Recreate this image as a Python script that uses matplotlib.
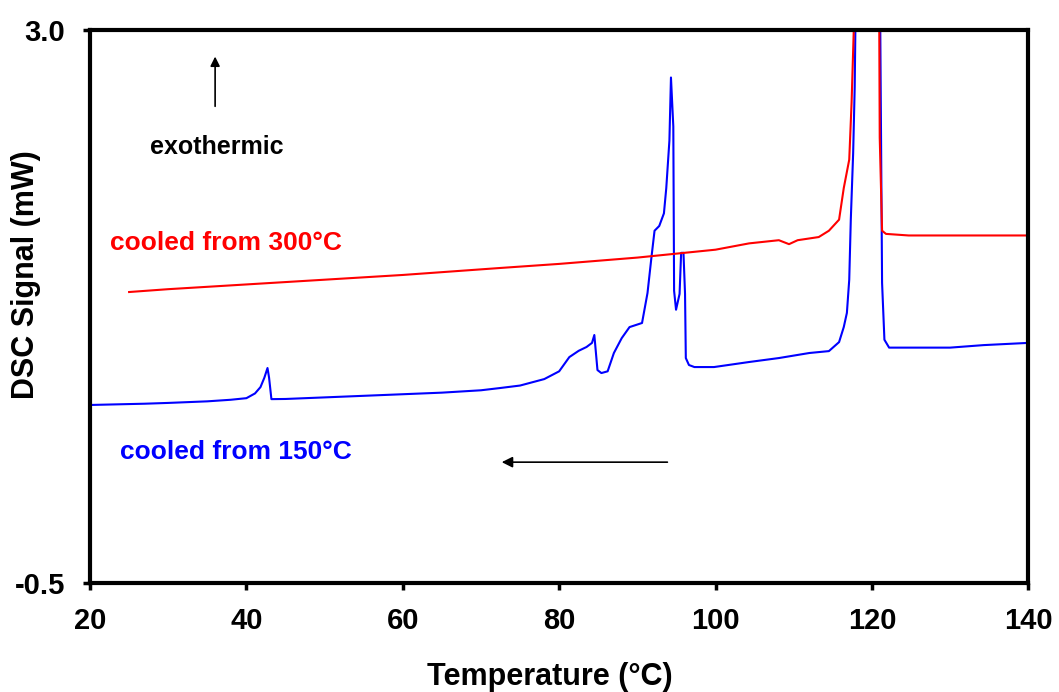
import matplotlib.pyplot as plt

plt.rcParams['font.family'] = ['Liberation Sans', 'DejaVu Sans']
plt.rcParams['font.weight'] = 'bold'

# cooled from 150 C (blue)
t150 = [20, 27, 30, 35, 38, 40, 41.1, 41.8, 42.3, 42.7, 42.9, 43.2, 45, 50, 55, 60,
        65, 70, 72.4, 75, 78.1, 80, 81.3, 82.5, 83.5, 84.2, 84.5, 84.9, 85.4, 86.2,
        87, 88, 89, 90.6, 91.3, 91.8, 92.2, 92.8, 93.4, 93.7, 94.1, 94.3, 94.6, 94.7,
        94.95, 95.4, 95.6, 95.9, 96.1, 96.2, 96.6, 97.3, 99.8, 104.3, 108.1, 112,
        114.5, 115.8, 116.4, 116.8, 117.1, 117.3, 117.6, 117.8, 118.0, 121.0, 121.3,
        121.6, 122.2, 125, 130, 134.3, 140]
dsc150 = [0.627, 0.635, 0.64, 0.65, 0.66, 0.67, 0.70, 0.74, 0.80, 0.861, 0.80, 0.664,
          0.665, 0.675, 0.685, 0.695, 0.705, 0.72, 0.734, 0.75, 0.791, 0.84, 0.93,
          0.97, 0.994, 1.02, 1.07, 0.848, 0.829, 0.84, 0.956, 1.05, 1.12, 1.146, 1.336,
          1.56, 1.73, 1.76, 1.84, 2.0, 2.30, 2.70, 2.39, 1.35, 1.23, 1.33, 1.59, 1.59,
          1.33, 0.924, 0.88, 0.867, 0.867, 0.899, 0.924, 0.956, 0.968, 1.025, 1.12,
          1.21, 1.42, 1.80, 2.22, 2.64, 3.5, 3.5, 1.40, 1.04, 0.99, 0.99, 0.99, 1.006,
          1.02]

# cooled from 300 C (red)
t300 = [25, 30, 40, 50, 60, 72.4, 80, 90, 100, 104.3, 108.1, 109.4, 110.5, 113.2,
        114.5, 115.8, 116.4, 117.1, 117.4, 117.8, 118.1, 120.9, 121.0, 121.3, 121.8,
        124.7, 130, 140]
dsc300 = [1.342, 1.36, 1.39, 1.42, 1.45, 1.494, 1.52, 1.56, 1.61, 1.65, 1.67, 1.645,
          1.67, 1.69, 1.73, 1.80, 2.0, 2.18, 2.54, 3.2, 3.5, 3.5, 2.32, 1.73, 1.71,
          1.70, 1.70, 1.70]

fig = plt.figure(figsize=(10.59, 6.92), dpi=100)
ax = fig.add_axes([0.085, 0.1575, 0.886, 0.799])

ax.plot(t150, dsc150, color='#0000ff', lw=1.5)
ax.plot(t300, dsc300, color='#ff0000', lw=1.5)

ax.set_xlim(20, 140)
ax.set_ylim(-0.5, 3.0)
ax.set_xticks([20, 40, 60, 80, 100, 120, 140])
ax.set_yticks([-0.5, 3.0])
ax.set_yticklabels(['-0.5', '3.0'])
ax.tick_params(direction='out', length=5, width=2.5, labelsize=21)
ax.tick_params(axis='x', pad=12)
ax.tick_params(axis='y', pad=13)
for s in ax.spines.values():
    s.set_linewidth(3)

ax.set_xlabel('Temperature (°C)', fontsize=22, fontweight='bold')
ax.set_ylabel('DSC Signal (mW)', fontsize=22, fontweight='bold')
ax.xaxis.set_label_coords(0.49, -0.142)
ax.yaxis.set_label_coords(-0.052, 0.557)

ax.annotate('', xy=(36.0, 2.85), xytext=(36.0, 2.5),
            arrowprops=dict(arrowstyle='-|>', color='black', lw=1.2, mutation_scale=14))
ax.text(27.7, 2.26, 'exothermic', fontsize=18, fontweight='bold', color='black', va='center')
ax.text(22.5, 1.65, 'cooled from 300°C', fontsize=19, fontweight='bold', color='#ff0000', va='center')
ax.text(23.8, 0.33, 'cooled from 150°C', fontsize=19, fontweight='bold', color='#0000ff', va='center')
ax.annotate('', xy=(72.3, 0.265), xytext=(94.2, 0.265),
            arrowprops=dict(arrowstyle='-|>', color='black', lw=1.2, mutation_scale=16))

fig.savefig('out.png', dpi=100)
